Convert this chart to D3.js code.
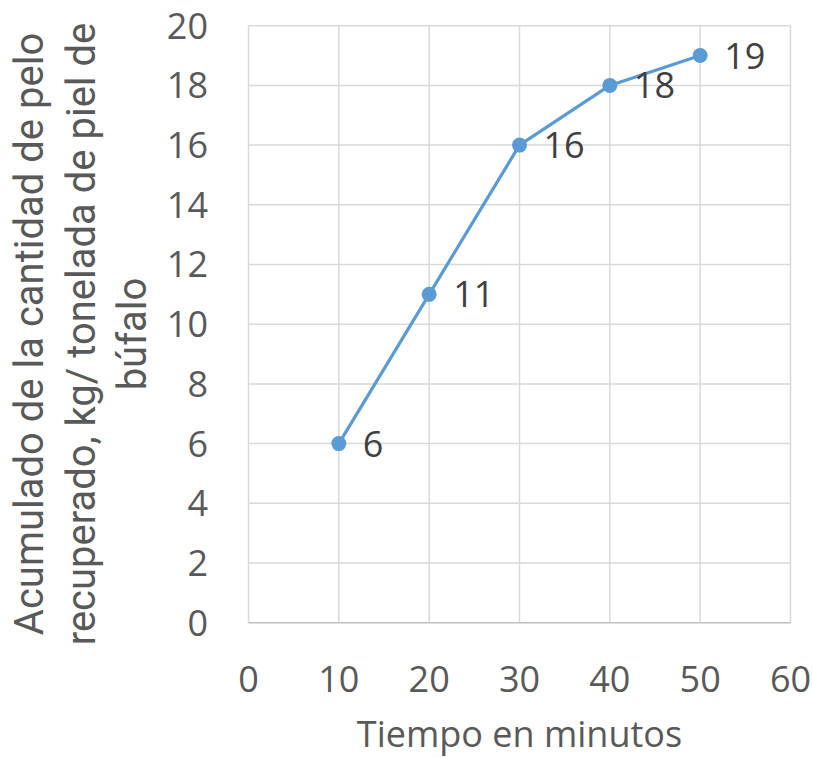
<!DOCTYPE html>
<html><head><meta charset="utf-8">
<script src="https://cdn.jsdelivr.net/npm/d3@7"></script>
<style>body{margin:0;background:#fff}svg{display:block}</style>
</head><body>
<svg id="c" width="813" height="758"></svg>
<script>
const minutes = [10, 20, 30, 40, 50];
const hairKg = [6, 11, 16, 18, 19];
const xTicks = [0, 10, 20, 30, 40, 50, 60];
const yTicks = [0, 2, 4, 6, 8, 10, 12, 14, 16, 18, 20];
const xTitle = "Tiempo en minutos";
const yTitleLines = ["Acumulado de la cantidad de pelo", "recuperado, kg/ tonelada de piel de", "búfalo"];

const svg = d3.select("#c");
const L = 248.5, R = 790.5, T = 25.7, B = 622.7;
const x = d3.scaleLinear().domain([0, 60]).range([L, R]);
const y = d3.scaleLinear().domain([0, 20]).range([B, T]);
const tickFont = "'Open Sans', sans-serif";

// gridlines
svg.append("g").selectAll("line").data(yTicks.filter(d => d > 0)).join("line")
  .attr("x1", L).attr("x2", R).attr("y1", d => y(d)).attr("y2", d => y(d))
  .attr("stroke", "#D9D9D9").attr("stroke-width", 1.5);
svg.append("g").selectAll("line").data(xTicks).join("line")
  .attr("y1", T).attr("y2", B).attr("x1", d => x(d)).attr("x2", d => x(d))
  .attr("stroke", "#D9D9D9").attr("stroke-width", 1.5);
// bottom axis line
svg.append("line").attr("x1", L).attr("x2", R).attr("y1", B).attr("y2", B)
  .attr("stroke", "#BFBFBF").attr("stroke-width", 1.5);

// tick labels
svg.append("g").selectAll("text").data(yTicks).join("text")
  .attr("x", 208).attr("y", d => y(d)).attr("dy", "0.36em")
  .attr("text-anchor", "end").attr("font-family", tickFont).attr("font-size", 36)
  .attr("fill", "#595959").text(d => d);
svg.append("g").selectAll("text").data(xTicks).join("text")
  .attr("x", d => x(d)).attr("y", 692)
  .attr("text-anchor", "middle").attr("font-family", tickFont).attr("font-size", 36)
  .attr("fill", "#595959").text(d => d);

// x title
svg.append("text").attr("x", (L + R) / 2).attr("y", 747)
  .attr("text-anchor", "middle").attr("font-family", tickFont).attr("font-size", 36)
  .attr("fill", "#595959").text(xTitle);

// y title
const yt = svg.append("text").attr("transform", "translate(0,334) rotate(-90)")
  .attr("text-anchor", "middle").attr("font-family", "Roboto, sans-serif").attr("font-size", 40)
  .attr("fill", "#595959");
yTitleLines.forEach((s, i) => {
  yt.append("tspan").attr("x", 0).attr("y", 43 + i * 51.5).text(s);
});

// line
const pts = minutes.map((m, i) => [m, hairKg[i]]);
svg.append("path").datum(pts)
  .attr("d", d3.line().x(d => x(d[0])).y(d => y(d[1])))
  .attr("fill", "none").attr("stroke", "#5B9BD5").attr("stroke-width", 3.2)
  .attr("stroke-linejoin", "round");
svg.append("g").selectAll("circle").data(pts).join("circle")
  .attr("cx", d => x(d[0])).attr("cy", d => y(d[1])).attr("r", 7.5)
  .attr("fill", "#5B9BD5");

// data labels
svg.append("g").selectAll("text").data(pts).join("text")
  .attr("x", d => x(d[0]) + 24).attr("y", d => y(d[1])).attr("dy", "0.36em")
  .attr("font-family", tickFont).attr("font-size", 36)
  .attr("fill", "#404040").text(d => d[1]);
</script>
</body></html>
